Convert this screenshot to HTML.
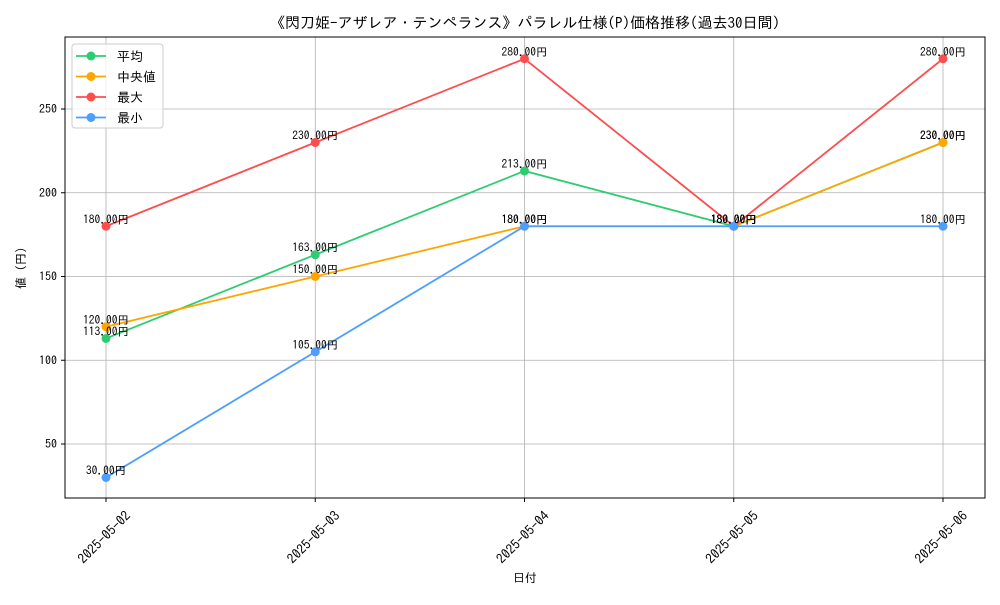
<!DOCTYPE html>
<html><head><meta charset="utf-8"><style>
body{margin:0;background:#fff;}
svg text{font-family:"IPAGothic","Liberation Sans","Noto Sans CJK JP",sans-serif;fill:#000;}
</style></head><body>
<svg id="chart" width="1000" height="600" xmlns="http://www.w3.org/2000/svg">
<rect width="1000" height="600" fill="#fff"/>
<text x="525" y="28" font-size="15" text-anchor="middle">《閃刀姫-アザレア・テンペランス》パラレル仕様(P)価格推移(過去30日間)</text>
<g id="grid"></g><g id="axes"></g><g id="series"></g>
<rect x="65" y="37" width="920" height="461" fill="none" stroke="#000" stroke-width="1"/>
<text x="525" y="582" font-size="12" text-anchor="middle">日付</text>
<text transform="translate(25,268) rotate(-90)" font-size="12" text-anchor="middle">値 (円)</text>
<g id="legend"></g>
</svg>
<script>
const categories=["2025-05-02","2025-05-03","2025-05-04","2025-05-05","2025-05-06"];
const avgValues=[113,163,213,180,230];
const medianValues=[120,150,180,180,230];
const maxValues=[180,230,280,180,280];
const minValues=[30,105,180,180,180];
const yTicks=[50,100,150,200,250];
const seriesNames=["平均","中央値","最大","最小"];
const NS="http://www.w3.org/2000/svg";
const X0=106,DX=209.25;
function xs(i){return X0+i*DX;}
function ys(v){return 527.75-v*1.675;}
function mk(p,t,a){const e=document.createElementNS(NS,t);for(const k in a)e.setAttribute(k,a[k]);p.appendChild(e);return e;}
const grid=document.getElementById('grid'),axes=document.getElementById('axes'),ser=document.getElementById('series'),leg=document.getElementById('legend');
yTicks.forEach(v=>{
 const l=mk(grid,'line',{x1:65,x2:985,y1:ys(v),y2:ys(v),stroke:'#b0b0b0','stroke-width':0.8});
 
 
 mk(axes,'line',{x1:61,x2:65,y1:ys(v),y2:ys(v),stroke:'#000'});
 const t=mk(axes,'text',{x:57,y:ys(v)+4,'font-size':12,'text-anchor':'end'});t.textContent=v;
 
 
});
categories.forEach((c,i)=>{
 const l=mk(grid,'line',{x1:xs(i),x2:xs(i),y1:37,y2:498,stroke:'#b0b0b0','stroke-width':0.8});
 
 
 mk(axes,'line',{x1:xs(i),x2:xs(i),y1:498,y2:502,stroke:'#000'});
 const t=mk(axes,'text',{transform:`translate(${xs(i)-2},${537}) rotate(-45)`,'font-size':13.5,'text-anchor':'middle','dominant-baseline':'central'});t.textContent=c;
 
 
});
const series=[[avgValues,'#2ecc71'],[medianValues,'#ffa500'],[maxValues,'#ff4d4d'],[minValues,'#4d9eff']];
series.forEach(([vals,col],si)=>{
 const g=mk(ser,'g',{});
 
 
 mk(g,'polyline',{points:vals.map((v,i)=>xs(i)+','+ys(v)).join(' '),fill:'none',stroke:col,'stroke-width':1.8});
 vals.forEach((v,i)=>{
  const c=mk(g,'circle',{cx:xs(i),cy:ys(v),r:4.5,fill:col});
  
  
 });
});
series.forEach(([vals],si)=>{
 vals.forEach((v,i)=>{
  const t=mk(ser,'text',{x:xs(i),y:ys(v)-3,'font-size':11.5,'text-anchor':'middle'});t.textContent=v.toFixed(2)+'円';
  
  
 });
});
const lb=mk(leg,'rect',{x:72,y:44,width:91,height:84,rx:3,fill:'#fff','fill-opacity':0.8,stroke:'#ccc'});


series.forEach(([v,col],si)=>{
 const y=56+si*20.5;
 mk(leg,'line',{x1:76,x2:106,y1:y,y2:y,stroke:col,'stroke-width':1.8});
 mk(leg,'circle',{cx:91,cy:y,r:4.5,fill:col});
 const t=mk(leg,'text',{x:117,y:y+5,'font-size':13});t.textContent=seriesNames[si];
 
 
});
</script>
</body></html>
